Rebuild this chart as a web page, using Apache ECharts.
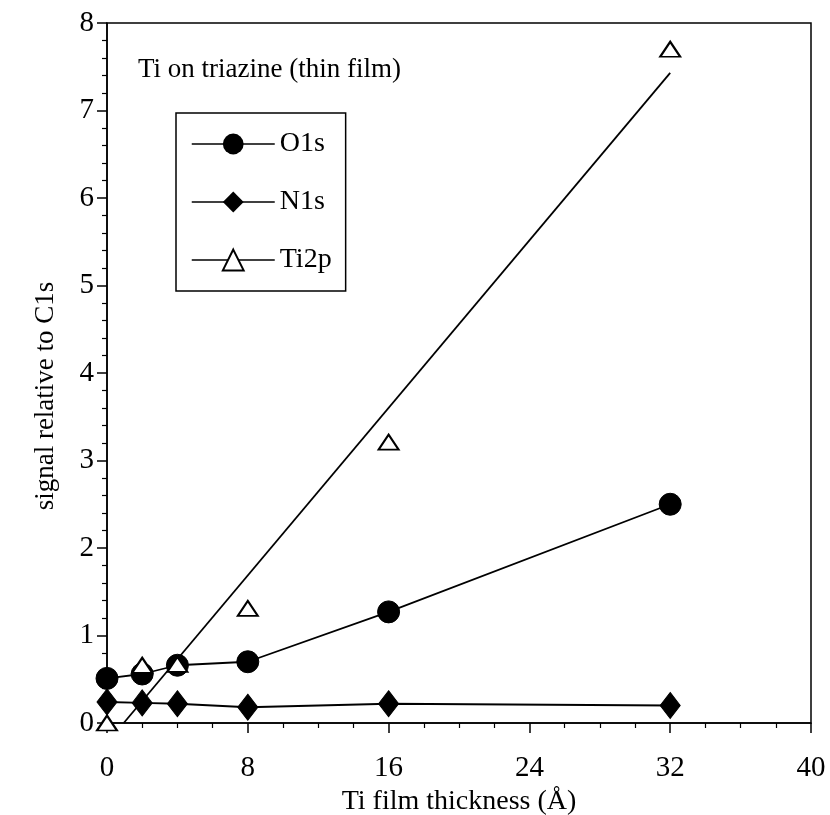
<!DOCTYPE html>
<html>
<head>
<meta charset="utf-8">
<script src="https://cdn.jsdelivr.net/npm/echarts@6/dist/echarts.min.js"></script>
<style>html,body{margin:0;padding:0;background:#fff}#c{width:830px;height:815px}</style>
</head>
<body>
<div id="c"></div>
<script>
var thickness = [0, 2, 4, 8, 16, 32];
var o1s = [0.51, 0.56, 0.66, 0.70, 1.27, 2.50];
var n1s = [0.24, 0.23, 0.22, 0.18, 0.22, 0.20];
var ti2p = [0.00, 0.66, 0.67, 1.31, 3.21, 7.70];
var fitX = [0.95, 32];
var fitY = [0, 7.43];
var xTicks = [0, 8, 16, 24, 32, 40];
var yTicks = [0, 1, 2, 3, 4, 5, 6, 7, 8];

function pairs(xs, ys) { return xs.map(function (x, i) { return [x, ys[i]]; }); }

var font = '"Liberation Serif", "Times New Roman", serif';
var chart = echarts.init(document.getElementById('c'), null, {renderer: 'canvas'});
chart.setOption({
  animation: false,
  backgroundColor: '#fff',
  title: {
    text: 'Ti on triazine (thin film)',
    left: 133, top: 51,
    textStyle: {fontFamily: font, fontSize: 27, fontWeight: 'normal', color: '#000'}
  },
  legend: {
    data: ['O1s', 'N1s', 'Ti2p'],
    orient: 'vertical',
    left: 176, top: 113,
    padding: [17, 14, 17, 15],
    itemWidth: 83, itemHeight: 26, itemGap: 30,
    borderColor: '#000', borderWidth: 1.5,
    textStyle: {fontFamily: font, fontSize: 28, color: '#000'},
    lineStyle: {color: '#000', width: 1.5, opacity: 1, type: 'solid'}
  },
  grid: {left: 107, right: 19, top: 23, bottom: 92, show: true, borderColor: '#000', borderWidth: 1.5,
         containLabel: false, outerBoundsMode: 'none'},
  xAxis: {
    type: 'value', min: 0, max: 40, interval: 8,
    name: 'Ti film thickness (Å)', nameLocation: 'middle', nameGap: 57,
    nameTextStyle: {fontFamily: font, fontSize: 28, color: '#000'},
    axisLine: {lineStyle: {color: '#000', width: 1.5}},
    axisTick: {inside: false, length: 10, lineStyle: {color: '#000', width: 1.5}},
    minorTick: {show: true, splitNumber: 4, length: 5, lineStyle: {color: '#000', width: 1.2}},
    axisLabel: {fontFamily: font, fontSize: 29, color: '#000', margin: 31},
    splitLine: {show: false}
  },
  yAxis: {
    type: 'value', min: 0, max: 8, interval: 1,
    name: 'signal relative to C1s', nameLocation: 'middle', nameGap: 48,
    nameTextStyle: {fontFamily: font, fontSize: 27, color: '#000', padding: [0, 46, 0, 0]},
    axisLine: {lineStyle: {color: '#000', width: 1.5}},
    axisTick: {inside: false, length: 10, lineStyle: {color: '#000', width: 1.5}},
    minorTick: {show: true, splitNumber: 5, length: 5, lineStyle: {color: '#000', width: 1.2}},
    axisLabel: {fontFamily: font, fontSize: 29, color: '#000', margin: 13},
    splitLine: {show: false}
  },
  series: [
    {
      name: 'Ti2p fit', type: 'line', data: pairs(fitX, fitY), symbol: 'none',
      lineStyle: {color: '#000', width: 1.8}, z: 1
    },
    {
      name: 'N1s', type: 'line', data: pairs(thickness, n1s),
      symbol: 'diamond', symbolSize: [20, 26],
      lineStyle: {color: '#000', width: 1.8},
      itemStyle: {color: '#000', borderColor: '#000'}, z: 2
    },
    {
      name: 'O1s', type: 'line', data: pairs(thickness, o1s),
      symbol: 'circle', symbolSize: 22,
      lineStyle: {color: '#000', width: 1.8},
      itemStyle: {color: '#000', borderColor: '#000'}, z: 3
    },
    {
      name: 'Ti2p', type: 'line', data: pairs(thickness, ti2p),
      symbol: 'triangle', symbolSize: [20, 15],
      lineStyle: {color: '#000', width: 1.8, opacity: 0},
      itemStyle: {color: '#fff', borderColor: '#000', borderWidth: 2}, z: 4
    }
  ]
});
</script>
</body>
</html>
